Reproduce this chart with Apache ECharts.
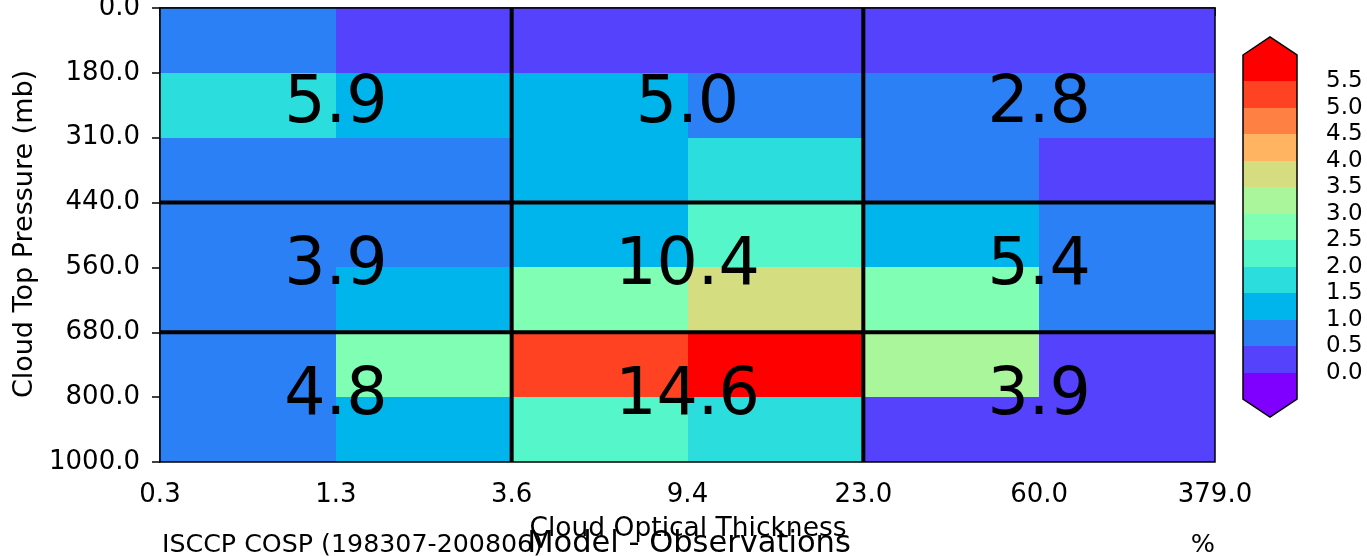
<!DOCTYPE html>
<html><head><meta charset="utf-8">
<script src="https://cdn.jsdelivr.net/npm/echarts@6/dist/echarts.min.js"></script>
<style>html,body{margin:0;padding:0;background:#fff}#c{width:1367px;height:556px}</style>
</head><body><div id="c"></div>
<script>
// Bin edges (tick labels)
const xEdgeLabels = ['0.3','1.3','3.6','9.4','23.0','60.0','379.0'];
const yEdgeLabels = ['0.0','180.0','310.0','440.0','560.0','680.0','800.0','1000.0'];
// Cell values (%), rows top (0-180 mb) to bottom (800-1000 mb), columns left to right
const row0 = [0.8, 0.3, 0.2, 0.2, 0.2, 0.2];
const row1 = [1.8, 1.3, 1.2, 0.7, 0.7, 0.7];
const row2 = [0.8, 0.9, 1.1, 1.6, 0.6, 0.4];
const row3 = [0.8, 0.9, 1.4, 2.4, 1.2, 0.8];
const row4 = [0.9, 1.3, 2.9, 3.7, 2.6, 0.8];
const row5 = [0.6, 2.55, 5.1, 5.8, 3.1, 0.2];
const row6 = [0.6, 1.05, 2.1, 1.6, 0.3, 0.3];
const cellRows = [row0, row1, row2, row3, row4, row5, row6];
// Aggregated blocks (low/mid/high cloud x thin/medium/thick)
const blockColEdges = [0, 2, 4, 6];
const blockRowEdges = [0, 3, 5, 7];
const blockTotals = [[5.9, 5.0, 2.8], [3.9, 10.4, 5.4], [4.8, 14.6, 3.9]];
// Colour scale
const cbarLevels = [0.0, 0.5, 1.0, 1.5, 2.0, 2.5, 3.0, 3.5, 4.0, 4.5, 5.0, 5.5];
const cbarColors = ['#8000ff','#5542fd','#2b80f6','#00b4ec','#2bdddd','#55f6ca','#80ffb4','#aaf69b','#d4dd80','#ffb462','#ff8042','#ff4221','#ff0000'];

const FONT = 'DejaVu Sans';
function colorFor(v) {
  let i = 0;
  while (i < cbarLevels.length && v >= cbarLevels[i]) i++;
  return cbarColors[i];
}

const cellData = [];
cellRows.forEach((row, r) => row.forEach((v, c) => cellData.push([c, r, v])));

const blockData = [];
blockTotals.forEach((row, bi) => row.forEach((t, bj) => {
  blockData.push([blockColEdges[bj], blockColEdges[bj + 1], blockRowEdges[bi], blockRowEdges[bi + 1], t]);
}));

const step = cbarLevels[1] - cbarLevels[0];
const cbarMin = cbarLevels[0] - step;
const cbarMax = cbarLevels[cbarLevels.length - 1] + step;
const bandData = cbarColors.map((col, i) => [
  i === 0 ? cbarMin : cbarLevels[i - 1],
  i === cbarColors.length - 1 ? cbarMax : cbarLevels[i],
  i
]);

const chart = echarts.init(document.getElementById('c'), null, {renderer: 'canvas'});
const axisLineStyle = {color: '#000', width: 1.5};
const R = Math.round;
chart.setOption({
  animation: false,
  backgroundColor: '#fff',
  grid: [
    {left: 160, top: 8, right: 152, bottom: 94, outerBoundsMode: 'none', containLabel: false},
    {left: 1243, top: 55, width: 54, height: 344, outerBoundsMode: 'none', containLabel: false}
  ],
  xAxis: [
    {type: 'value', gridIndex: 0, min: 0, max: xEdgeLabels.length - 1, interval: 1,
     axisLine: {show: true, lineStyle: axisLineStyle},
     axisTick: {show: true, length: 8, lineStyle: axisLineStyle},
     splitLine: {show: false},
     axisLabel: {formatter: v => xEdgeLabels[v], fontSize: 26, color: '#000', fontFamily: FONT, margin: 20}},
    {type: 'value', gridIndex: 1, min: 0, max: 1, show: false}
  ],
  yAxis: [
    {type: 'value', gridIndex: 0, inverse: true, min: 0, max: yEdgeLabels.length - 1, interval: 1,
     axisLine: {show: true, lineStyle: axisLineStyle},
     axisTick: {show: true, length: 8, lineStyle: axisLineStyle},
     splitLine: {show: false},
     axisLabel: {formatter: v => yEdgeLabels[v], fontSize: 26, color: '#000', fontFamily: FONT, margin: 20,
                 padding: [5, 0, 0, 0]}},
    {type: 'value', gridIndex: 1, min: cbarMin, max: cbarMax, interval: step, position: 'right',
     axisLine: {show: false}, axisTick: {show: false}, splitLine: {show: false},
     axisLabel: {fontSize: 23, color: '#000', fontFamily: FONT, margin: 29, padding: [8, 0, 0, 0],
       formatter: v => (v < cbarLevels[0] - 1e-9 || v > cbarLevels[cbarLevels.length - 1] + 1e-9) ? '' : v.toFixed(1)}}
  ],
  series: [
    {type: 'custom', xAxisIndex: 0, yAxisIndex: 0, z: 2, data: cellData,
     renderItem: (params, api) => {
       const x = api.value(0), y = api.value(1), v = api.value(2);
       const p0 = api.coord([x, y]), p1 = api.coord([x + 1, y + 1]);
       const x0 = R(Math.min(p0[0], p1[0])), x1 = R(Math.max(p0[0], p1[0]));
       const y0 = R(Math.min(p0[1], p1[1])), y1 = R(Math.max(p0[1], p1[1]));
       return {type: 'rect', shape: {x: x0, y: y0, width: x1 - x0, height: y1 - y0},
         style: {fill: colorFor(v)}};
     }},
    {type: 'custom', xAxisIndex: 0, yAxisIndex: 0, z: 3, data: [[0]],
     renderItem: (params, api) => {
       const nx = xEdgeLabels.length - 1, ny = yEdgeLabels.length - 1;
       const children = [];
       blockColEdges.slice(1, -1).forEach(c => {
         const a = api.coord([c, 0]), b = api.coord([c, ny]);
         children.push({type: 'line', shape: {x1: a[0], y1: a[1], x2: b[0], y2: b[1]}, style: {stroke: '#000', lineWidth: 4}});
       });
       blockRowEdges.slice(1, -1).forEach(r => {
         const a = api.coord([0, r]), b = api.coord([nx, r]);
         children.push({type: 'line', shape: {x1: a[0], y1: a[1], x2: b[0], y2: b[1]}, style: {stroke: '#000', lineWidth: 4}});
       });
       const tl = api.coord([0, 0]), br = api.coord([nx, ny]);
       children.push({type: 'rect', shape: {x: tl[0], y: tl[1], width: br[0] - tl[0], height: br[1] - tl[1]},
         style: {fill: 'none', stroke: '#000', lineWidth: 1.5}});
       return {type: 'group', children};
     }},
    {type: 'custom', xAxisIndex: 0, yAxisIndex: 0, z: 4, data: blockData,
     renderItem: (params, api) => {
       const c = api.coord([(api.value(0) + api.value(1)) / 2, (api.value(2) + api.value(3)) / 2]);
       return {type: 'text', x: c[0], y: c[1],
         style: {text: api.value(4).toFixed(1), fontSize: 65, fontFamily: FONT, fill: '#000',
                 align: 'center', verticalAlign: 'middle'}};
     }},
    {type: 'custom', xAxisIndex: 1, yAxisIndex: 1, z: 2, data: bandData, clip: false,
     renderItem: (params, api) => {
       const lo = api.value(0), hi = api.value(1), idx = api.value(2);
       const a = api.coord([0, lo]), b = api.coord([1, hi]);
       const ax = R(a[0]), bx = R(b[0]), ay = R(a[1]), by = R(b[1]);
       const tip = (bx - ax) / 3, mx = (ax + bx) / 2;
       let pts;
       if (idx === 0) {
         pts = [[ax, by], [bx, by], [bx, ay], [mx, ay + tip], [ax, ay]];
       } else if (idx === cbarColors.length - 1) {
         pts = [[ax, ay], [bx, ay], [bx, by], [mx, by - tip], [ax, by]];
       } else {
         pts = [[ax, ay], [bx, ay], [bx, by], [ax, by]];
       }
       return {type: 'polygon', shape: {points: pts}, style: {fill: cbarColors[idx]}};
     }},
    {type: 'custom', xAxisIndex: 1, yAxisIndex: 1, z: 3, data: [[0]], clip: false,
     renderItem: (params, api) => {
       const a = api.coord([0, cbarMin]), b = api.coord([1, cbarMax]);
       const ax = R(a[0]), bx = R(b[0]), ay = R(a[1]), by = R(b[1]);
       const tip = (bx - ax) / 3, mx = (ax + bx) / 2;
       const pts = [[ax, by], [mx, by - tip], [bx, by], [bx, ay], [mx, ay + tip], [ax, ay]];
       return {type: 'polygon', shape: {points: pts}, style: {fill: 'none', stroke: '#000', lineWidth: 1.5}};
     }}
  ],
  graphic: [
    {type: 'text', x: 25, y: 234, rotation: Math.PI / 2,
     style: {text: 'Cloud Top Pressure (mb)', fontSize: 27, fontFamily: FONT, fill: '#000', align: 'center', verticalAlign: 'middle'}},
    {type: 'text', x: 688, y: 529,
     style: {text: 'Cloud Optical Thickness', fontSize: 26.5, fontFamily: FONT, fill: '#000', align: 'center', verticalAlign: 'middle'}},
    {type: 'text', x: 162, y: 545,
     style: {text: 'ISCCP COSP (198307-200806)', fontSize: 25.3, fontFamily: FONT, fill: '#000', align: 'left', verticalAlign: 'middle'}},
    {type: 'text', x: 689, y: 544,
     style: {text: 'Model - Observations', fontSize: 30.5, fontFamily: FONT, fill: '#000', align: 'center', verticalAlign: 'middle'}},
    {type: 'text', x: 1215, y: 545,
     style: {text: '%', fontSize: 25.5, fontFamily: FONT, fill: '#000', align: 'right', verticalAlign: 'middle'}}
  ]
});
</script>
</body></html>
